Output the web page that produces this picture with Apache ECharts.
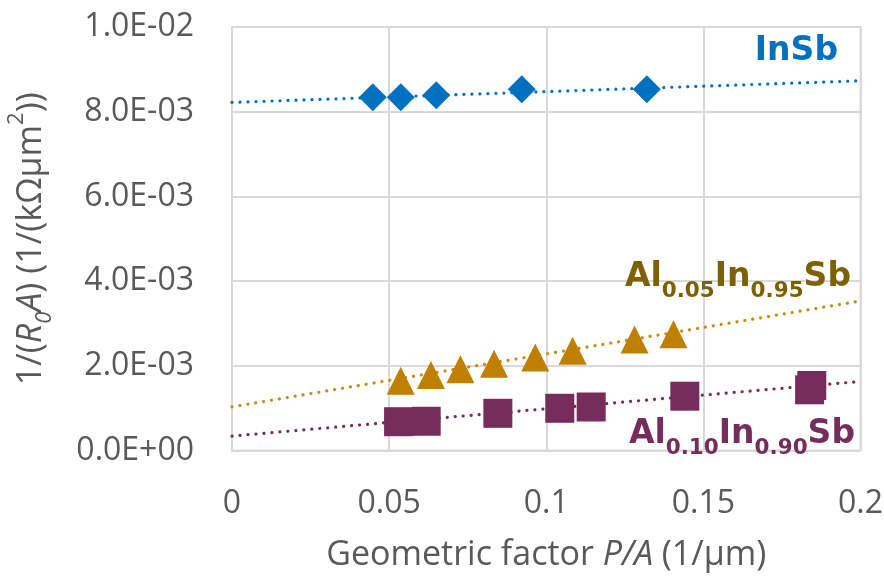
<!DOCTYPE html>
<html>
<head>
<meta charset="utf-8">
<title>1/(R0A) vs geometric factor</title>
<script src="https://cdn.jsdelivr.net/npm/echarts@6/dist/echarts.min.js"></script>
<style>
  html, body { margin: 0; padding: 0; background: #ffffff; }
  #chart { width: 884px; height: 577px; }
</style>
</head>
<body>
<div id="chart"></div>
<script>
// Measured points: geometric factor P/A (1/um) and 1/(R0A) (1/(kOhm um^2))
const insbX = [0.0448, 0.0537, 0.0650, 0.0922, 0.1320];
const insbY = [8.34e-3, 8.34e-3, 8.39e-3, 8.53e-3, 8.53e-3];

const al05X = [0.0537, 0.0633, 0.0727, 0.0834, 0.0965, 0.1084, 0.1281, 0.1405];
const al05Y = [1.646e-3, 1.78e-3, 1.92e-3, 2.05e-3, 2.196e-3, 2.354e-3, 2.62e-3, 2.746e-3];

const al10X = [0.0530, 0.0618, 0.0846, 0.1043, 0.1143, 0.1441, 0.1838, 0.1845];
const al10Y = [0.68e-3, 0.69e-3, 0.878e-3, 0.997e-3, 1.027e-3, 1.282e-3, 1.433e-3, 1.535e-3];

// Linear trend lines, given by their end values across the x range
const trendX = [0, 0.2];
const insbTrend = [8.22e-3, 8.73e-3];
const al05Trend = [1.03e-3, 3.53e-3];
const al10Trend = [0.34e-3, 1.63e-3];

// Axis ticks
const xTicks = [0, 0.05, 0.1, 0.15, 0.2];
const yTicks = [0, 0.002, 0.004, 0.006, 0.008, 0.01];

const pairs = (xs, ys) => xs.map((x, i) => [x, ys[i]]);

const C_INSB = '#0070C0';
const C_AL05 = '#BF7F00';
const C_AL05_TEXT = '#7F6000';
const C_AL05_TREND = '#C98C12';
const C_AL10 = '#772D5B';
const TEXT_GRAY = '#595959';
const FONT = '"Open Sans", "Noto Sans", sans-serif';
const BOLD_FONT = '"DejaVu Sans", Verdana, sans-serif';

function sciLabel(v) {
  const s = Number(v).toExponential(1);
  const parts = s.split('e');
  const n = parseInt(parts[1], 10);
  return parts[0] + 'E' + (n < 0 ? '-' : '+') + String(Math.abs(n)).padStart(2, '0');
}

function trendSeries(ys, color) {
  return {
    type: 'line',
    data: pairs(trendX, ys),
    symbol: 'none',
    silent: true,
    z: 2,
    lineStyle: { color: color, width: 3.2, type: [0.1, 7.9], cap: 'round' }
  };
}

function markerSeries(xs, ys, symbol, size, color) {
  return {
    type: 'scatter',
    data: pairs(xs, ys),
    symbol: symbol,
    symbolSize: size,
    z: 3,
    itemStyle: { color: color, opacity: 1 }
  };
}

// Rich styles for the compound labels: bold main text with lowered subscripts
function formulaRich(color) {
  return {
    m: { fontFamily: BOLD_FONT, fontWeight: 'bold', fontSize: 33, fill: color, lineHeight: 50, verticalAlign: 'middle' },
    s: { fontFamily: BOLD_FONT, fontWeight: 'bold', fontSize: 21.5, fill: color, lineHeight: 30, verticalAlign: 'bottom' }
  };
}

const chart = echarts.init(document.getElementById('chart'), null, { renderer: 'canvas' });

const option = {
  backgroundColor: '#ffffff',
  animation: false,
  grid: {
    left: 232, right: 23.5, top: 27, bottom: 126.5,
    outerBoundsMode: 'none',
    containLabel: false,
    show: true, borderColor: '#D9D9D9', borderWidth: 2, backgroundColor: 'transparent'
  },
  xAxis: {
    type: 'value',
    min: xTicks[0], max: xTicks[xTicks.length - 1], interval: 0.05,
    axisLine: { show: false },
    axisTick: { show: false },
    splitLine: { show: true, lineStyle: { color: '#D9D9D9', width: 2 } },
    axisLabel: {
      margin: 37, fontFamily: FONT, fontSize: 32, color: TEXT_GRAY,
      formatter: v => String(parseFloat(v.toFixed(4)))
    },
    name: '{n|Geometric factor }{i|P/A}{n| (1/µm)}',
    nameLocation: 'middle',
    nameGap: 88,
    nameTextStyle: {
      rich: {
        n: { fontFamily: FONT, fontSize: 34, color: TEXT_GRAY },
        i: { fontFamily: FONT, fontSize: 34, color: TEXT_GRAY, fontStyle: 'italic' }
      }
    }
  },
  yAxis: {
    type: 'value',
    min: yTicks[0], max: yTicks[yTicks.length - 1], interval: 0.002,
    axisLine: { show: false },
    axisTick: { show: false },
    splitLine: { show: true, lineStyle: { color: '#D9D9D9', width: 2 } },
    axisLabel: { margin: 38, fontFamily: FONT, fontSize: 32, color: TEXT_GRAY, formatter: sciLabel },
    name: '{n|1/(}{i|R}{sub|0}{i|A}{n|) (1/(kΩμm}{sup|2}{n|))}',
    nameLocation: 'middle',
    nameRotate: 90,
    nameGap: 176,
    nameTextStyle: {
      rich: {
        n: { fontFamily: FONT, fontSize: 34, color: TEXT_GRAY, lineHeight: 50, verticalAlign: 'middle' },
        i: { fontFamily: FONT, fontSize: 34, color: TEXT_GRAY, fontStyle: 'italic', lineHeight: 50, verticalAlign: 'middle' },
        sub: { fontFamily: FONT, fontSize: 22, color: TEXT_GRAY, fontStyle: 'italic', lineHeight: 30, verticalAlign: 'bottom' },
        sup: { fontFamily: FONT, fontSize: 22, color: TEXT_GRAY, lineHeight: 26, verticalAlign: 'top' }
      }
    }
  },
  series: [
    trendSeries(insbTrend, C_INSB),
    trendSeries(al05Trend, C_AL05_TREND),
    trendSeries(al10Trend, C_AL10),
    markerSeries(insbX, insbY, 'diamond', 28, C_INSB),
    markerSeries(al05X, al05Y, 'triangle', 28, C_AL05),
    markerSeries(al10X, al10Y, 'rect', 29, C_AL10)
  ],
  graphic: [
    {
      type: 'text', right: 884 - 838, top: 35, z: 10,
      style: { text: '{m|InSb}', rich: formulaRich(C_INSB), align: 'right' }
    },
    {
      type: 'text', right: 884 - 851, top: 261, z: 10,
      style: { text: '{m|Al}{s|0.05}{m|In}{s|0.95}{m|Sb}', rich: formulaRich(C_AL05_TEXT), align: 'right' }
    },
    {
      type: 'text', right: 884 - 855, top: 418, z: 10,
      style: { text: '{m|Al}{s|0.10}{m|In}{s|0.90}{m|Sb}', rich: formulaRich(C_AL10), align: 'right' }
    }
  ]
};

chart.setOption(option);
</script>
</body>
</html>
